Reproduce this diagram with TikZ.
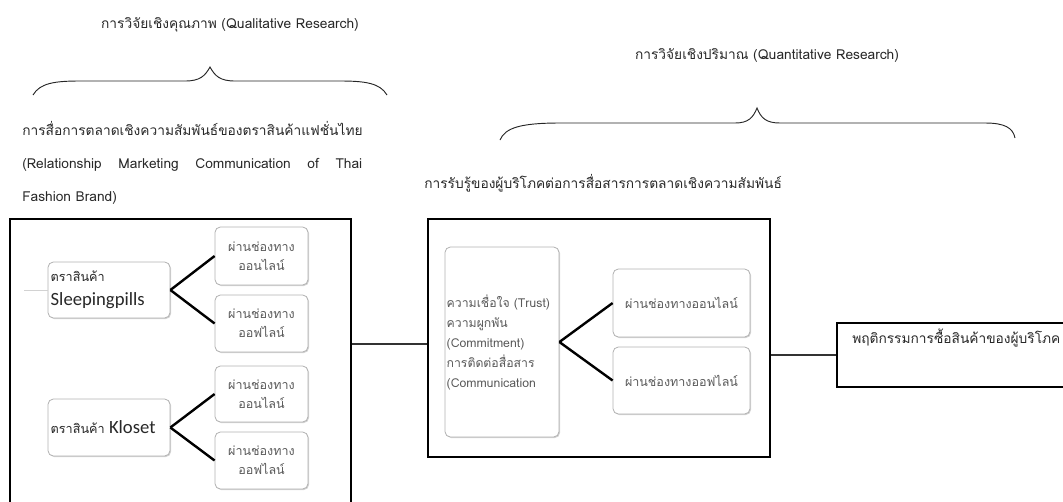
\documentclass[tikz,border=0pt]{standalone}
\usepackage{fontspec}
\setmainfont[Script=Thai]{Loma}
\newfontfamily\brandfont{Carlito}
\usetikzlibrary{shadows}

\begin{document}
\begin{tikzpicture}[x=0.75pt,y=-0.75pt,
  every node/.style={font=\fontsize{10.3pt}{13pt}\selectfont, text=headtext},
  bigbox/.style={draw=black, line width=0.9pt, inner sep=0pt},
  roundbox/.style={draw=gray!60, rounded corners=4pt, fill=white, line width=0.6pt,
    drop shadow={shadow xshift=0.8pt, shadow yshift=-0.8pt, opacity=0.35},
    text=boxtext, align=center, inner sep=2pt,
    font=\fontsize{9.4pt}{14pt}\selectfont},
  branch/.style={line width=1.8pt, black},
  link/.style={line width=0.8pt, black!80},
  wbrace/.style={line width=0.7pt, black!85}]

% --- CONFIGURATION ---
\definecolor{headtext}{RGB}{40,40,40}  % headings
\definecolor{boxtext}{RGB}{90,90,90}   % text in the small boxes
\useasboundingbox (0,0) rectangle (1063,501);

% --- HEADINGS AND BRACES ---
\node (qualhead) at (230,25) {การวิจัยเชิงคุณภาพ (Qualitative Research)};
\node (quanhead) at (767,55) {การวิจัยเชิงปริมาณ (Quantitative Research)};

\draw [wbrace] (33,95) .. controls (40,83) and (55,81) .. (80,81) -- (185,81)
  .. controls (200,81) and (205,76) .. (210,67) .. controls (215,76) and (220,81) .. (235,81)
  -- (340,81) .. controls (365,81) and (380,83) .. (387,95);
\draw [wbrace] (500,140) .. controls (505,128) and (520,123) .. (560,123) -- (735,123)
  .. controls (748,123) and (753,118) .. (757,108) .. controls (761,118) and (766,123) .. (780,123)
  -- (985,123) .. controls (1005,123) and (1013,128) .. (1015,138);

\node [anchor=west, align=left, inner sep=0pt, font=\fontsize{10.3pt}{24.75pt}\selectfont] (qualtext) at (22,163)
  {การสื่อการตลาดเชิงความสัมพันธ์ของตราสินค้าแฟชั่นไทย\\
   \makebox[255pt][s]{(Relationship Marketing Communication of Thai}\\
   Fashion Brand)};
\node [anchor=west, inner sep=0pt] (quantext) at (424,183)
  {การรับรู้ของผู้บริโภคต่อการสื่อสารการตลาดเชิงความสัมพันธ์};

% --- BIG BOXES ---
\node [bigbox, minimum width=255.75pt, minimum height=233.25pt] (brandbox) at (180.5,374.5) {};
\node [bigbox, minimum width=256.5pt, minimum height=178.5pt] (perceptbox) at (599,338) {};
\node [bigbox, minimum width=197.25pt, minimum height=48pt] (behavbox) at (968.5,355) {};
\node [anchor=north west, inner sep=0pt] (behavtext) at (852,329) {พฤติกรรมการซื้อสินค้าของผู้บริโภค};

% --- LEFT BOX: BRANDS ---
\node [roundbox, align=left, text width=87.5pt, minimum height=42pt, text=headtext,
  font=\fontsize{9.5pt}{18pt}\selectfont] (sleeping) at (109,290)
  {ตราสินค้า\\{\brandfont\fontsize{14pt}{18pt}\selectfont Sleepingpills}};
\node [roundbox, minimum width=69.75pt, minimum height=43.5pt] (online1) at (261.5,256) {ผ่านช่องทาง\\ออนไลน์};
\node [roundbox, minimum width=69.75pt, minimum height=42.75pt] (offline1) at (261.5,323.5) {ผ่านช่องทาง\\ออฟไลน์};

\node [roundbox, align=left, text width=87.5pt, minimum height=42.75pt, text=headtext,
  font=\fontsize{9.5pt}{18pt}\selectfont] (kloset) at (109,427.5)
  {ตราสินค้า {\brandfont\fontsize{14pt}{18pt}\selectfont Kloset}};
\node [roundbox, minimum width=69.75pt, minimum height=42pt] (online2) at (261.5,394) {ผ่านช่องทาง\\ออนไลน์};
\node [roundbox, minimum width=69.75pt, minimum height=42.75pt] (offline2) at (261.5,460.5) {ผ่านช่องทาง\\ออฟไลน์};

\draw [gray!35, line width=0.5pt] (sleeping.west) -- ++(-24,0);
\draw [branch] (sleeping.east) -- (online1.west);
\draw [branch] (sleeping.east) -- (offline1.west);
\draw [branch] (kloset.east) -- (online2.west);
\draw [branch] (kloset.east) -- (offline2.west);

% --- MIDDLE BOX: PERCEPTION ---
\node [roundbox, align=left, text width=83pt, inner sep=1.25pt, minimum height=142.5pt,
  font=\fontsize{9.2pt}{15pt}\selectfont] (trust) at (502,342)
  {ความเชื่อใจ~(Trust)\\ความผูกพัน\\(Commitment)\\การติดต่อสื่อสาร\\(Communication};
\node [roundbox, minimum width=102.75pt, minimum height=51pt] (online3) at (681.5,303) {ผ่านช่องทางออนไลน์};
\node [roundbox, minimum width=102.75pt, minimum height=50.25pt] (offline3) at (681.5,380.5) {ผ่านช่องทางออฟไลน์};

\draw [branch] (trust.east) -- (online3.west);
\draw [branch] (trust.east) -- (offline3.west);

% --- LINKS BETWEEN BOXES ---
\draw [link] ([yshift=-4.5pt]perceptbox.west) -- ([yshift=-4.5pt]perceptbox.west -| brandbox.east);
\draw [link] (behavbox.west) -- (behavbox.west -| perceptbox.east);

\end{tikzpicture}
\end{document}
